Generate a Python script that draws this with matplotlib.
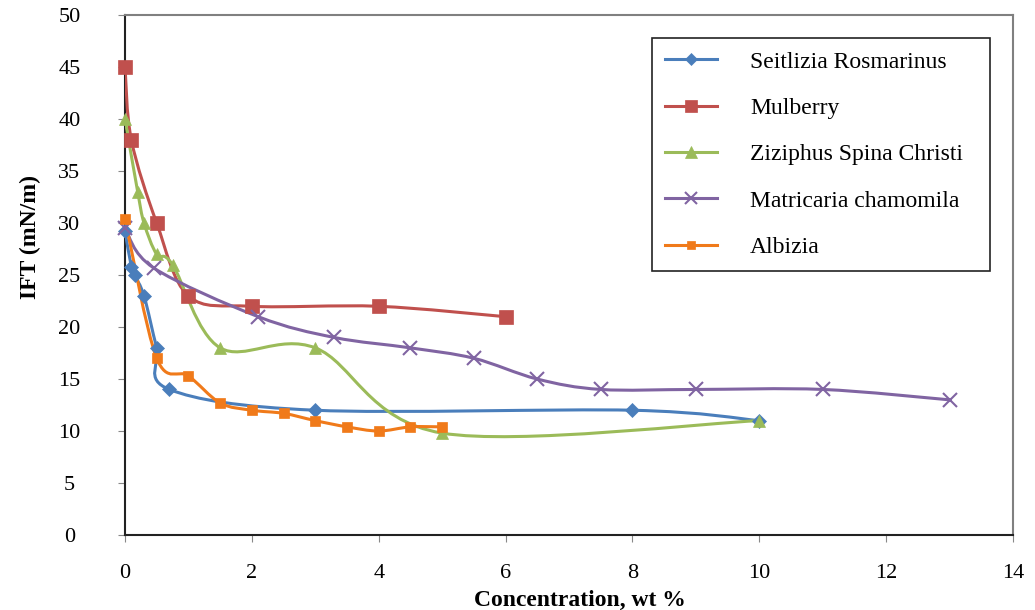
import matplotlib.pyplot as plt
import numpy as np
from matplotlib.path import Path
from matplotlib.patches import PathPatch
from matplotlib.lines import Line2D

plt.rcParams["font.family"] = ["Liberation Serif", "DejaVu Serif"]

# IFT (mN/m) vs concentration (wt %)
seit_x = [0, 0.1, 0.15, 0.3, 0.5, 0.7, 3, 8, 10]
seit_y = [29.2, 25.8, 25, 23, 18, 14, 12, 12, 11]

mulb_x = [0, 0.1, 0.5, 1, 2, 4, 6]
mulb_y = [45, 38, 30, 23, 22, 22, 21]

zizi_x = [0, 0.2, 0.3, 0.5, 0.75, 1.5, 3, 5, 10]
zizi_y = [40, 33, 30, 27, 26, 18, 18, 9.8, 11]

matr_x = [0, 0.45, 2.1, 3.3, 4.5, 5.5, 6.5, 7.5, 9, 11, 13]
matr_y = [29.5, 25.7, 21, 19, 18, 17, 15, 14, 14, 14, 13]

albi_x = [0, 0.5, 1, 1.5, 2, 2.5, 3, 3.5, 4, 4.5, 5]
albi_y = [30.4, 17, 15.3, 12.7, 12, 11.7, 11, 10.4, 10, 10.4, 10.4]

labels = ["Seitlizia Rosmarinus", "Mulberry", "Ziziphus Spina Christi",
          "Matricaria chamomila", "Albizia"]
colors = ["#4A7EBB", "#C0504D", "#9BBB59", "#8064A2", "#F07A1A"]
markers = ["D", "s", "^", "x", "s"]
msizes = [7, 10, 9, 10, 7]


def smooth_path(x, y):
    # excel-like smoothed line: cubic bezier through every point
    p = np.column_stack([x, y]).astype(float)
    n = len(p)
    verts = [p[0]]
    codes = [Path.MOVETO]
    for i in range(n - 1):
        p0 = p[i - 1] if i > 0 else p[i]
        p3 = p[i + 2] if i + 2 < n else p[i + 1]
        c1 = p[i] + (p[i + 1] - p0) / 6
        c2 = p[i + 1] - (p3 - p[i]) / 6
        verts += [c1, c2, p[i + 1]]
        codes += [Path.CURVE4] * 3
    return Path(verts, codes)


fig = plt.figure(figsize=(10.35, 6.1), dpi=100)
ax = fig.add_axes([0.1208, 0.123, 0.8579, 0.852])

series = [(seit_x, seit_y), (mulb_x, mulb_y), (zizi_x, zizi_y),
          (matr_x, matr_y), (albi_x, albi_y)]
handles = []
for (xs, ys), lab, c, m, ms in zip(series, labels, colors, markers, msizes):
    ax.add_patch(PathPatch(smooth_path(xs, ys), fill=False, edgecolor=c,
                           lw=2.2, zorder=3))
    mew = 1.5 if m == "x" else 0.5
    ax.plot(xs, ys, ls="none", marker=m, ms=ms, color=c, mec=c, mew=mew,
            zorder=4, clip_on=False)
    handles.append(Line2D([], [], color=c, lw=2.2, marker=m, ms=ms - 1,
                          mec=c, mew=mew))

ax.set_xlim(0, 14)
ax.set_ylim(0, 50)
ax.set_xticks(range(0, 15, 2))
ax.set_yticks(range(0, 51, 5))
ax.tick_params(labelsize=16, length=5, color="#888888", direction="out")
ax.tick_params(axis="y", pad=35)
ax.tick_params(axis="x", pad=16)
for t in ax.get_yticklabels():
    t.set_horizontalalignment("center")

for s in ["top", "right"]:
    ax.spines[s].set_color("#808080")
    ax.spines[s].set_linewidth(1.5)
for s in ["left", "bottom"]:
    ax.spines[s].set_color("#222222")
    ax.spines[s].set_linewidth(1.5)

ax.set_xlabel("Concentration, wt %", fontsize=17, fontweight="bold")
ax.xaxis.set_label_coords(0.5124, -0.106)
ax.set_ylabel("IFT (mN/m)", fontsize=17, fontweight="bold")
ax.yaxis.set_label_coords(-0.095, 0.573)

leg = ax.legend(handles, labels, loc="upper left", mode="expand",
                bbox_to_anchor=(0.5935, 0.5135, 0.3806, 0.4423),
                fontsize=17, frameon=True, fancybox=False,
                edgecolor="#222222", framealpha=1, labelspacing=1.05,
                handlelength=2.2, handletextpad=1.4, borderpad=0.55,
                borderaxespad=0)
leg.get_frame().set_linewidth(1.2)

plt.savefig("out.png", dpi=100)
